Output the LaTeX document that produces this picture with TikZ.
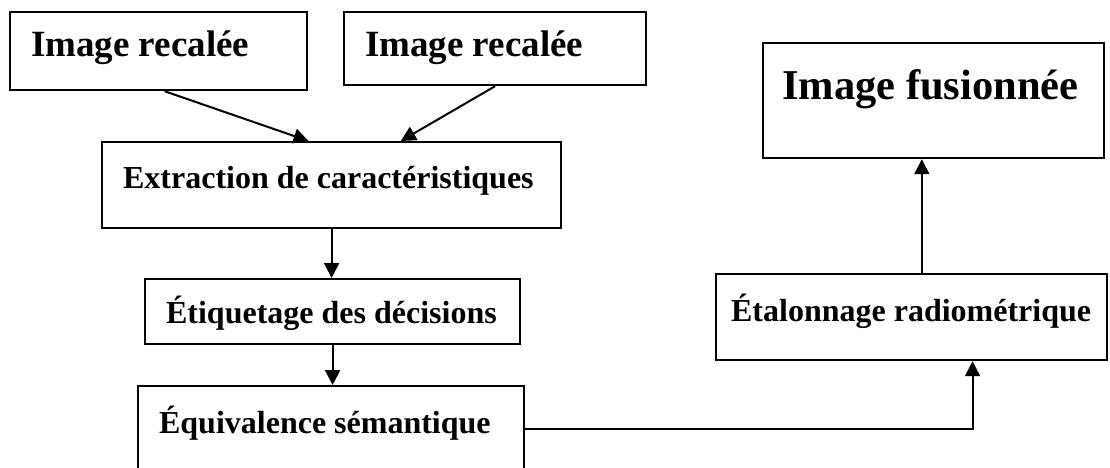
\documentclass[tikz,border=0pt]{standalone}
\usepackage{fontspec}
\setmainfont{Liberation Serif}
\usetikzlibrary{arrows.meta, calc}

\begin{document}
\begin{tikzpicture} [x = 1pt, y = -1pt,
  box/.style = {draw, black, line width = 2.2pt, anchor = north west, inner ysep = 0pt, inner xsep = 21pt, align = flush left, font = \bfseries\fontsize{32}{38}\selectfont},
  bigbox/.style = {box, font = \bfseries\fontsize{37}{44}\selectfont},
  arr/.style = {-{Triangle[length = 15pt, width = 15pt]}, line width = 2pt}]
\useasboundingbox (0, 0) rectangle (1110, 467);
\clip (0, 0) rectangle (1110, 467);
\node[bigbox, text width = 255pt, text height = 44pt, text depth = 34pt] (img1) at (9, 11) {Image recalée};
\node[bigbox, text width = 260pt, text height = 44pt, text depth = 29pt] (img2) at (343, 11) {Image recalée};
\node[box, font = \bfseries\fontsize{42.5}{50}\selectfont, inner xsep = 19pt, text width = 303pt, text height = 56pt, text depth = 59pt] (fusion) at (762, 42) {Image fusionnée};
\node[box, text width = 417pt, text height = 46pt, text depth = 40pt] (extr) at (101, 141) {Extraction de caractéristiques};
\node[box, text width = 333pt, text height = 44pt, text depth = 21pt] (etiq) at (144, 278) {Étiquetage des décisions};
\node[box, text width = 344pt, text height = 47pt, text depth = 39pt] (equiv) at (137, 385) {Équivalence sémantique};
\node[box, inner xsep = 15pt, text width = 361pt, text height = 47pt, text depth = 39pt] (etal) at (715, 273) {Étalonnage radiométrique};
\coordinate (in1) at ($(extr.north west)!0.45!(extr.north east)$);
\coordinate (in2) at ($(extr.north west)!0.65!(extr.north east)$);
\coordinate (etalin) at ($(etal.south west)!0.655!(etal.south east)$);
\coordinate (etalout) at ($(etal.north west)!0.526!(etal.north east)$);
\draw[arr] ($(img1.south) + (6, 0)$) -- (in1);
\draw[arr] (img2.south) -- (in2);
\draw[arr] (extr.south) -- (extr.south |- etiq.north);
\draw[arr] (etiq.south) -- (etiq.south |- equiv.north);
\draw[arr] (equiv.east) -| (etalin);
\draw[arr] (etalout) -- (etalout |- fusion.south);
\end{tikzpicture}
\end{document}
